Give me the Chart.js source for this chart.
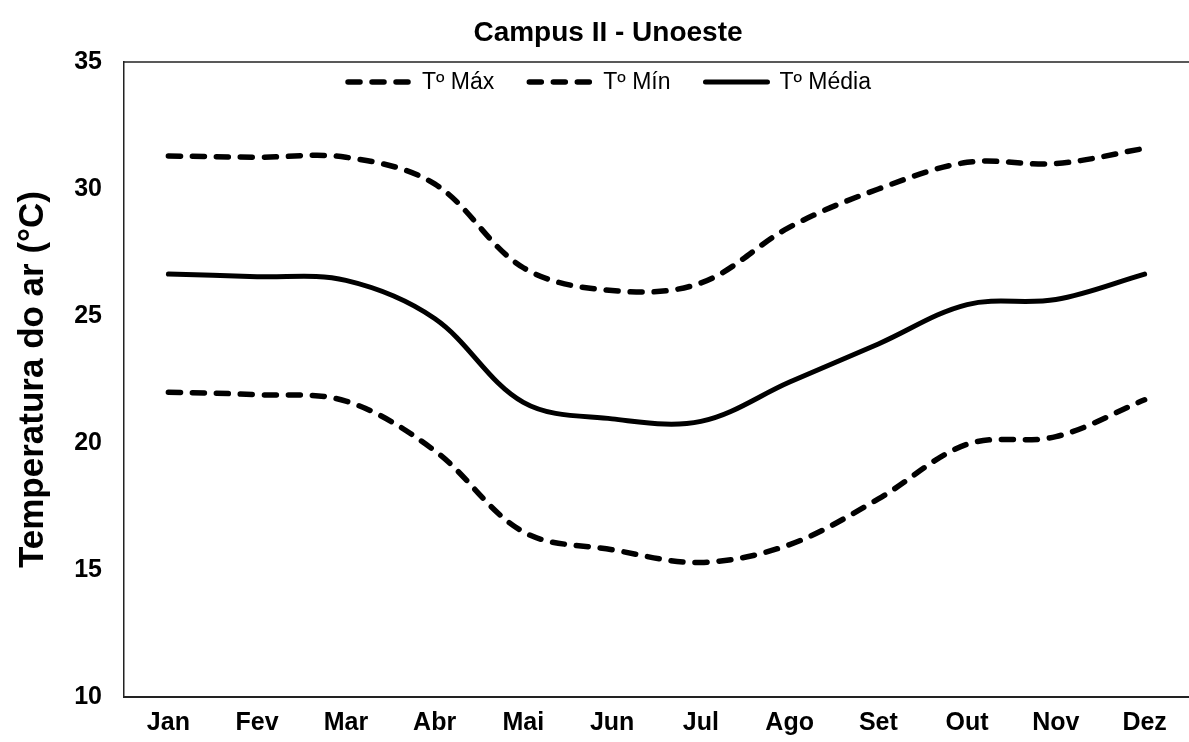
<!DOCTYPE html>
<html><head><meta charset="utf-8">
<script src="https://cdn.jsdelivr.net/npm/chart.js@4.4.1/dist/chart.umd.min.js"></script>
<style>html,body{margin:0;padding:0;background:#fff;overflow:hidden}#wrap{width:1189px;height:742px;position:relative}canvas{display:block}</style>
</head><body><div id="wrap"><canvas id="c" width="1189" height="742"></canvas></div>
<script>
const categories = ['Jan','Fev','Mar','Abr','Mai','Jun','Jul','Ago','Set','Out','Nov','Dez'];
const tMax   = [31.3, 31.25, 31.25, 30.2, 26.9, 26.0, 26.3, 28.5, 30.0, 31.05, 31.0, 31.6];
const tMin   = [22.0, 21.9, 21.65, 19.7, 16.5, 15.8, 15.3, 16.0, 17.8, 19.95, 20.25, 21.7];
const tMedia = [26.65, 26.55, 26.4, 24.9, 21.6, 20.95, 20.85, 22.4, 23.9, 25.45, 25.65, 26.65];
const seriesNames = ['Tº Máx', 'Tº Mín', 'Tº Média'];
const yMin = 10, yMax = 35, yStep = 5;
const chartTitle = 'Campus II - Unoeste';
const yAxisTitle = 'Temperatura do ar (°C)';

const FONT = "'Liberation Sans', Arial, sans-serif";

const frameAndLegend = {
  id: 'frameAndLegend',
  afterDraw(chart) {
    const ctx = chart.ctx, a = chart.chartArea;
    ctx.save();
    ctx.strokeStyle = '#222'; ctx.lineWidth = 1.5; ctx.setLineDash([]);
    ctx.beginPath(); ctx.moveTo(a.left, a.top); ctx.lineTo(a.right, a.top); ctx.stroke();
    ctx.fillStyle = '#000';
    ctx.font = 'bold 28px ' + FONT;
    ctx.textAlign = 'center'; ctx.textBaseline = 'alphabetic';
    ctx.fillText(chartTitle, 608, 41);
    ctx.font = '23px ' + FONT;
    const lineLen = 68, gap = 9, spacing = 32;
    const items = chart.data.datasets.map(ds => ({ds, w: ctx.measureText(ds.label).width}));
    const total = items.reduce((s, it) => s + lineLen + gap + it.w, 0) + spacing * (items.length - 1);
    let x = 608 - total / 2;
    const y = 82;
    ctx.textAlign = 'left'; ctx.textBaseline = 'middle';
    items.forEach(it => {
      ctx.strokeStyle = it.ds.borderColor; ctx.lineWidth = it.ds.borderWidth;
      ctx.lineCap = 'round';
      ctx.setLineDash(it.ds.borderDash || []);
      ctx.beginPath(); ctx.moveTo(x + 3, y); ctx.lineTo(x + lineLen - 3, y); ctx.stroke();
      ctx.setLineDash([]);
      ctx.fillStyle = '#000';
      ctx.fillText(it.ds.label, x + lineLen + gap, y + 1);
      x += lineLen + gap + it.w + spacing;
    });
    ctx.restore();
  }
};

new Chart(document.getElementById('c'), {
  type: 'line',
  data: {
    labels: categories,
    datasets: [
      {label: seriesNames[0], data: tMax, borderColor: '#000', borderWidth: 5.5, borderDash: [12, 12], borderCapStyle: 'round', pointRadius: 0, tension: 0.35, fill: false},
      {label: seriesNames[1], data: tMin, borderColor: '#000', borderWidth: 5.5, borderDash: [12, 12], borderCapStyle: 'round', pointRadius: 0, tension: 0.35, fill: false},
      {label: seriesNames[2], data: tMedia, borderColor: '#000', borderWidth: 5, borderCapStyle: 'round', pointRadius: 0, tension: 0.35, fill: false}
    ]
  },
  options: {
    responsive: false,
    devicePixelRatio: 1,
    animation: false,
    layout: {padding: {top: 62, left: 0, right: 0, bottom: 0}},
    plugins: {legend: {display: false}, title: {display: false}, tooltip: {enabled: false}},
    scales: {
      x: {
        type: 'category', offset: true,
        grid: {display: false, drawTicks: false},
        border: {display: true, color: '#222', width: 2},
        ticks: {color: '#000', font: {family: FONT, weight: 'bold', size: 25}, padding: 11, maxRotation: 0, autoSkip: false},
        afterFit(s) { s.height = 45; }
      },
      y: {
        min: yMin, max: yMax,
        grid: {display: false, drawTicks: false},
        border: {display: true, color: '#222', width: 1.5},
        ticks: {stepSize: yStep, color: '#000', font: {family: FONT, weight: 'bold', size: 25}, padding: 22},
        title: {display: true, text: yAxisTitle, color: '#000', font: {family: FONT, weight: 'bold', size: 35}, padding: {top: 12, bottom: 0}},
        afterFit(s) { s.width = 124; }
      }
    }
  },
  plugins: [frameAndLegend]
});
</script></body></html>
